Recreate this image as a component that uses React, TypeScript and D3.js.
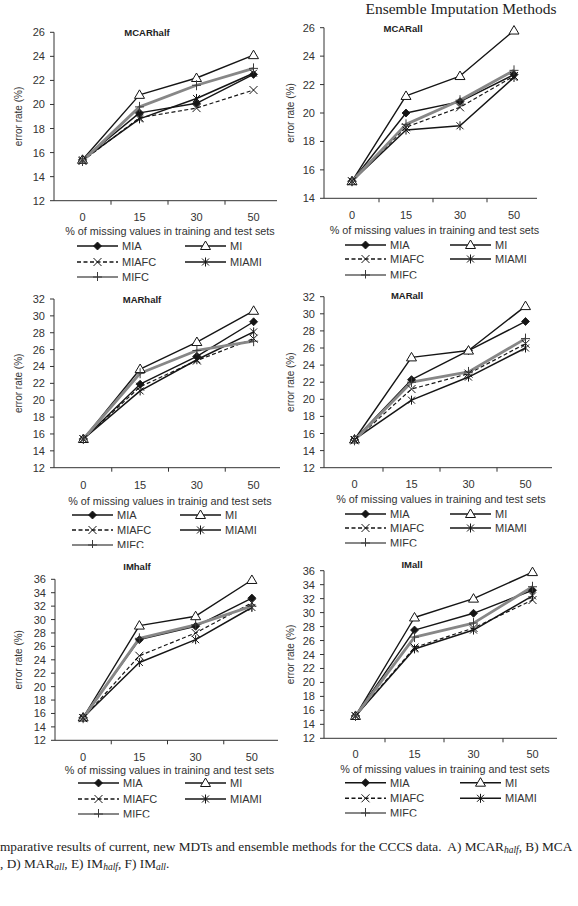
import React from "react";
import * as d3 from "d3";

// Missing-value percentages shown on every x axis
const categories = ["0", "15", "30", "50"];
// Series order used by every panel's rows
const seriesNames = ["MIA", "MI", "MIAFC", "MIAMI", "MIFC"];

// Error rates (%) per panel, one row per series (MIA, MI, MIAFC, MIAMI, MIFC)
const mcarHalf = [
  [15.4, 19.3, 20.1, 22.5],
  [15.4, 20.8, 22.2, 24.1],
  [15.3, 18.9, 19.7, 21.2],
  [15.4, 18.8, 20.5, 22.6],
  [15.3, 19.8, 21.6, 23.0],
];
const mcarAll = [
  [15.2, 20.0, 20.8, 22.7],
  [15.2, 21.2, 22.6, 25.8],
  [15.2, 19.0, 20.4, 22.6],
  [15.2, 18.8, 19.1, 22.5],
  [15.2, 19.2, 20.9, 23.0],
];
const marHalf = [
  [15.4, 21.9, 25.2, 29.3],
  [15.4, 23.7, 26.9, 30.6],
  [15.4, 21.6, 24.7, 27.3],
  [15.4, 21.1, 24.8, 28.1],
  [15.4, 23.2, 25.9, 27.0],
];
const marAll = [
  [15.3, 22.3, 25.7, 29.1],
  [15.3, 24.9, 25.7, 30.9],
  [15.2, 21.2, 23.0, 26.5],
  [15.3, 19.9, 22.6, 26.0],
  [15.2, 22.0, 23.2, 27.1],
];
const imHalf = [
  [15.4, 27.0, 29.0, 33.2],
  [15.4, 29.1, 30.5, 35.9],
  [15.3, 24.6, 28.0, 32.5],
  [15.4, 23.6, 27.0, 31.8],
  [15.3, 27.2, 29.2, 32.0],
];
const imAll = [
  [15.2, 27.5, 29.9, 33.2],
  [15.2, 29.3, 32.0, 35.8],
  [15.2, 25.0, 27.8, 31.8],
  [15.2, 24.8, 27.5, 32.4],
  [15.2, 26.5, 28.5, 33.7],
];

const xTitle = "% of missing values in training and test sets";
const xTitleTypo = "% of missing values in trainig and test sets";

type MarkerKind = "diamond" | "triangle" | "cross" | "star" | "plus";

const GRAY = "#878787";
const INK = "#151515";

const seriesStyle: { marker: MarkerKind; color: string; width: number; dash: string }[] = [
  { marker: "diamond", color: INK, width: 1.4, dash: "" },
  { marker: "triangle", color: INK, width: 1.4, dash: "" },
  { marker: "cross", color: INK, width: 1.2, dash: "4 2.5" },
  { marker: "star", color: INK, width: 1.5, dash: "" },
  { marker: "plus", color: GRAY, width: 2.8, dash: "" },
];

interface PanelSpec {
  id: string;
  title: string;
  data: number[][];
  yDomain: [number, number];
  axisX: number;
  xRange: [number, number];
  axisEnd: number;
  yTop: number;
  yBottom: number;
  titleX: number;
  titleY: number;
  xLabelY: number;
  xTitleY: number;
  xTitleText: string;
  legendRows: number[];
  legendX: [number, number];
  clipBottom: number;
  yTitleX: number;
}

const panels: PanelSpec[] = [
  {
    id: "a", title: "MCARhalf", data: mcarHalf, yDomain: [12, 26],
    axisX: 54, xRange: [54, 282], axisEnd: 277, yTop: 32.3, yBottom: 200.7,
    titleX: 147, titleY: 32, xLabelY: 217, xTitleY: 231, xTitleText: xTitle,
    legendRows: [246, 262, 277], legendX: [77, 185], clipBottom: 281, yTitleX: 18,
  },
  {
    id: "b", title: "MCARall", data: mcarAll, yDomain: [14, 26],
    axisX: 324, xRange: [325, 541], axisEnd: 537, yTop: 27.7, yBottom: 198.3,
    titleX: 403, titleY: 28, xLabelY: 215, xTitleY: 230, xTitleText: xTitle,
    legendRows: [245, 259, 275], legendX: [345, 450], clipBottom: 278.5, yTitleX: 290,
  },
  {
    id: "c", title: "MARhalf", data: marHalf, yDomain: [12, 32],
    axisX: 54, xRange: [55, 282], axisEnd: 280, yTop: 299, yBottom: 467.7,
    titleX: 142, titleY: 299, xLabelY: 485, xTitleY: 501, xTitleText: xTitleTypo,
    legendRows: [515, 530, 545], legendX: [72, 180], clipBottom: 548, yTitleX: 18,
  },
  {
    id: "d", title: "MARall", data: marAll, yDomain: [12, 32],
    axisX: 324, xRange: [326, 554], axisEnd: 552, yTop: 296.7, yBottom: 467.7,
    titleX: 407, titleY: 295, xLabelY: 484, xTitleY: 499, xTitleText: xTitle,
    legendRows: [514, 528, 543], legendX: [345, 450], clipBottom: 546.5, yTitleX: 290,
  },
  {
    id: "e", title: "IMhalf", data: imHalf, yDomain: [12, 36],
    axisX: 55, xRange: [55, 280], axisEnd: 278, yTop: 579.3, yBottom: 740.3,
    titleX: 137, titleY: 566.7, xLabelY: 756.7, xTitleY: 770, xTitleText: xTitle,
    legendRows: [783, 799, 814], legendX: [78, 185], clipBottom: 817.5, yTitleX: 18,
  },
  {
    id: "f", title: "IMall", data: imAll, yDomain: [12, 36],
    axisX: 324, xRange: [326, 562], axisEnd: 557, yTop: 570.7, yBottom: 738.3,
    titleX: 412, titleY: 564, xLabelY: 754.3, xTitleY: 769, xTitleText: xTitle,
    legendRows: [782.7, 798.3, 813], legendX: [345, 460], clipBottom: 816.5, yTitleX: 290,
  },
];

const SANS = "'Liberation Sans', Arial, sans-serif";
const SERIF = "'Liberation Serif', 'Times New Roman', serif";

function Marker({ kind, x, y }: { kind: MarkerKind; x: number; y: number }) {
  switch (kind) {
    case "diamond":
      return (
        <path
          d={`M${x},${y - 4}L${x + 4},${y}L${x},${y + 4}L${x - 4},${y}Z`}
          fill={INK}
          stroke={INK}
          strokeWidth={0.8}
        />
      );
    case "triangle":
      return (
        <path
          d={`M${x},${y - 5}L${x + 5},${y + 3.5}L${x - 5},${y + 3.5}Z`}
          fill="#fff"
          stroke={INK}
          strokeWidth={1}
        />
      );
    case "cross":
      return (
        <g stroke={INK} strokeWidth={1}>
          <line x1={x - 4} y1={y - 4} x2={x + 4} y2={y + 4} />
          <line x1={x - 4} y1={y + 4} x2={x + 4} y2={y - 4} />
        </g>
      );
    case "star":
      return (
        <g stroke={INK} strokeWidth={1}>
          <line x1={x - 3.5} y1={y - 3.5} x2={x + 3.5} y2={y + 3.5} />
          <line x1={x - 3.5} y1={y + 3.5} x2={x + 3.5} y2={y - 3.5} />
          <line x1={x} y1={y - 4.5} x2={x} y2={y + 4.5} />
        </g>
      );
    case "plus":
      return (
        <g stroke="#3a3a3a" strokeWidth={1}>
          <line x1={x - 4.5} y1={y} x2={x + 4.5} y2={y} />
          <line x1={x} y1={y - 5} x2={x} y2={y + 5} />
        </g>
      );
  }
}

function Panel({ p }: { p: PanelSpec }) {
  const x = d3.scalePoint<string>().domain(categories).range(p.xRange).padding(0.5);
  const y = d3.scaleLinear().domain(p.yDomain).range([p.yBottom, p.yTop]);
  const yTicks = d3.range(p.yDomain[0], p.yDomain[1] + 0.001, 2);
  const step = x.step();
  const edges = categories
    .slice(1)
    .map((c) => (x(c) as number) - step / 2);
  const line = d3
    .line<number>()
    .x((_, i) => x(categories[i]) as number)
    .y((d) => y(d));
  const xMid = (p.axisX + p.xRange[1]) / 2 + 2;
  const yMid = (p.yTop + p.yBottom) / 2;
  const legendLen = 41;
  const legendItems = seriesNames.map((name, i) => ({
    name,
    style: seriesStyle[i],
    col: i % 2,
    row: Math.floor(i / 2),
  }));

  return (
    <g>
      {/* panel title */}
      <text
        x={p.titleX}
        y={p.titleY}
        textAnchor="middle"
        dominantBaseline="central"
        fontFamily={SANS}
        fontWeight="bold"
        fontSize={9.5}
        fill="#222"
      >
        {p.title}
      </text>

      {/* y axis */}
      <line x1={p.axisX} y1={p.yTop} x2={p.axisX} y2={p.yBottom} stroke="#333" strokeWidth={1} />
      {yTicks.map((t) => (
        <g key={`yt${t}`}>
          <line x1={p.axisX - 4} y1={y(t)} x2={p.axisX} y2={y(t)} stroke="#333" strokeWidth={1} />
          <text
            x={p.axisX - 9}
            y={y(t)}
            textAnchor="end"
            dominantBaseline="central"
            fontFamily={SANS}
            fontSize={11}
            fill="#333"
          >
            {t}
          </text>
        </g>
      ))}
      <text
        transform={`translate(${p.yTitleX},${yMid}) rotate(-90)`}
        textAnchor="middle"
        dominantBaseline="central"
        fontFamily={SANS}
        fontSize={10}
        fill="#333"
      >
        error rate (%)
      </text>

      {/* x axis */}
      <line x1={p.axisX} y1={p.yBottom} x2={p.axisEnd} y2={p.yBottom} stroke="#333" strokeWidth={1} />
      {edges.map((e, i) => (
        <line key={`xt${i}`} x1={e} y1={p.yBottom} x2={e} y2={p.yBottom + 4} stroke="#333" strokeWidth={1} />
      ))}
      {categories.map((c) => (
        <text
          key={`xl${c}`}
          x={x(c) as number}
          y={p.xLabelY}
          textAnchor="middle"
          dominantBaseline="central"
          fontFamily={SANS}
          fontSize={11}
          fill="#333"
        >
          {c}
        </text>
      ))}
      <text
        x={xMid}
        y={p.xTitleY}
        textAnchor="middle"
        dominantBaseline="central"
        fontFamily={SANS}
        fontSize={10.8}
        fill="#333"
      >
        {p.xTitleText}
      </text>

      {/* series lines */}
      {p.data.map((row, i) => (
        <path
          key={`s${i}`}
          d={line(row) || ""}
          fill="none"
          stroke={seriesStyle[i].color}
          strokeWidth={seriesStyle[i].width}
          strokeDasharray={seriesStyle[i].dash || undefined}
          strokeLinejoin="round"
        />
      ))}
      {p.data.map((row, i) =>
        row.map((v, j) => (
          <Marker key={`m${i}-${j}`} kind={seriesStyle[i].marker} x={x(categories[j]) as number} y={y(v)} />
        ))
      )}

      {/* legend, cut off below the third row */}
      <clipPath id={`legend-${p.id}`}>
        <rect x={p.axisX - 40} y={p.legendRows[0] - 10} width={280} height={p.clipBottom - p.legendRows[0] + 10} />
      </clipPath>
      <g clipPath={`url(#legend-${p.id})`}>
        {legendItems.map((it) => {
          const lx = p.legendX[it.col];
          const ly = p.legendRows[it.row];
          return (
            <g key={`lg${it.name}`}>
              <line
                x1={lx}
                y1={ly}
                x2={lx + legendLen}
                y2={ly}
                stroke={it.style.color}
                strokeWidth={it.style.marker === "plus" ? 2 : 1.4}
                strokeDasharray={it.style.dash || undefined}
              />
              <Marker kind={it.style.marker} x={lx + legendLen / 2} y={ly} />
              <text
                x={lx + legendLen + 4}
                y={ly}
                dominantBaseline="central"
                fontFamily={SANS}
                fontSize={11}
                fill="#333"
              >
                {it.name}
              </text>
            </g>
          );
        })}
      </g>
    </g>
  );
}

export default function App() {
  const subStyle = { fontStyle: "italic" as const, fontSize: 9.5 };
  return (
    <svg
      width={578}
      height={906}
      viewBox="0 0 578 906"
      style={{ position: "absolute", left: 0, top: 0, background: "#fff" }}
    >
      <rect x={0} y={0} width={578} height={906} fill="#fff" />
      <text x={461} y={13.5} textAnchor="middle" fontFamily={SERIF} fontSize={15.5} fill="#222">
        Ensemble Imputation Methods
      </text>

      {panels.map((p) => (
        <Panel key={p.id} p={p} />
      ))}

      <text x={0} y={850.5} fontFamily={SERIF} fontSize={13.3} fill="#222" xmlSpace="preserve">
        mparative results of current, new MDTs and ensemble methods for the CCCS data.  A) MCAR
        <tspan {...subStyle} dy={2}>half</tspan>
        <tspan dy={-2}>, B) MCA</tspan>
      </text>
      <text x={0} y={868} fontFamily={SERIF} fontSize={13.3} fill="#222">
        , D) MAR
        <tspan {...subStyle} dy={2}>all</tspan>
        <tspan dy={-2}>, E) IM</tspan>
        <tspan {...subStyle} dy={2}>half</tspan>
        <tspan dy={-2}>, F) IM</tspan>
        <tspan {...subStyle} dy={2}>all</tspan>
        <tspan dy={-2}>.</tspan>
      </text>
    </svg>
  );
}
